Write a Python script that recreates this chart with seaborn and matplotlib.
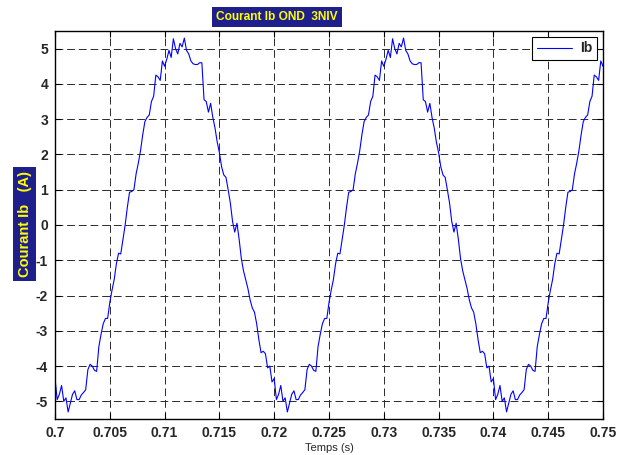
import matplotlib
matplotlib.use("Agg")
import matplotlib.pyplot as plt
import numpy as np
import seaborn as sns

t_start = 0.7
t_step = 0.0002

ib_period1 = [
    -4.35, -4.95, -4.8, -4.55, -5.0, -4.9, -5.3, -5.05, -4.8, -4.7,
    -4.95, -4.95, -4.82, -4.75, -4.67, -4.1, -3.95, -4.0, -4.12, -4.15,
    -3.45, -3.1, -2.8, -2.65, -2.65, -2.2, -1.85, -1.55, -1.1, -0.8,
    -0.82, -0.4, 0.0, 0.5, 0.93, 0.95, 1.0, 1.45, 1.75, 2.1,
    2.55, 2.93, 3.05, 3.12, 3.5, 3.65, 4.25, 4.2, 4.1, 4.65,
    4.5, 4.7, 4.95, 4.75, 5.28, 5.0, 4.85, 5.15, 5.05, 5.3,
    4.95, 4.85, 4.65, 4.57, 4.55, 4.55, 4.6, 4.6, 3.55, 3.5,
    3.2, 3.45, 3.05, 2.75, 2.35, 2.05, 1.65, 1.42, 1.35, 1.0,
    0.62, 0.1, -0.2, 0.05, -0.4, -0.95, -1.3, -1.55, -1.8, -2.12,
    -2.35, -2.47, -2.8, -3.25, -3.62, -3.58, -3.65, -4.05, -4.0, -4.45,
]
ib_period2 = [
    -4.35, -4.95, -4.8, -4.55, -5.0, -4.9, -5.3, -5.05, -4.8, -4.7,
    -4.95, -4.95, -4.82, -4.75, -4.67, -4.1, -3.95, -4.0, -4.12, -4.15,
    -3.45, -3.1, -2.8, -2.65, -2.65, -2.2, -1.85, -1.55, -1.1, -0.8,
    -0.82, -0.4, 0.0, 0.5, 0.93, 0.95, 1.0, 1.45, 1.75, 2.1,
    2.55, 2.93, 3.05, 3.12, 3.5, 3.65, 4.25, 4.2, 4.1, 4.65,
    4.5, 4.7, 4.95, 4.75, 5.28, 5.0, 4.85, 5.15, 5.05, 5.3,
    4.95, 4.85, 4.65, 4.57, 4.55, 4.55, 4.6, 4.6, 3.55, 3.5,
    3.2, 3.45, 3.05, 2.75, 2.35, 2.05, 1.65, 1.42, 1.35, 1.0,
    0.62, 0.1, -0.2, 0.05, -0.4, -0.95, -1.3, -1.55, -1.8, -2.12,
    -2.35, -2.47, -2.8, -3.25, -3.62, -3.58, -3.65, -4.05, -4.0, -4.45,
]
ib_period3 = [
    -4.35, -4.95, -4.8, -4.55, -5.0, -4.9, -5.3, -5.05, -4.8, -4.7,
    -4.95, -4.95, -4.82, -4.75, -4.67, -4.1, -3.95, -4.0, -4.12, -4.15,
    -3.45, -3.1, -2.8, -2.65, -2.65, -2.2, -1.85, -1.55, -1.1, -0.8,
    -0.82, -0.4, 0.0, 0.5, 0.93, 0.95, 1.0, 1.45, 1.75, 2.1,
    2.55, 2.93, 3.05, 3.12, 3.5, 3.65, 4.25, 4.2, 4.1, 4.65,
    4.5,
]

x_ticks = [0.7, 0.705, 0.71, 0.715, 0.72, 0.725, 0.73, 0.735, 0.74, 0.745, 0.75]
x_tick_labels = ['0.7', '0.705', '0.71', '0.715', '0.72', '0.725',
                 '0.73', '0.735', '0.74', '0.745', '0.75']
y_ticks = [-5, -4, -3, -2, -1, 0, 1, 2, 3, 4, 5]


def main():
    ib = ib_period1 + ib_period2 + ib_period3
    temps = t_start + t_step * np.arange(len(ib))

    sns.set_theme(style='white')
    plt.rcParams['font.family'] = ['Liberation Sans', 'DejaVu Sans']

    fig = plt.figure(figsize=(6.19, 4.55), dpi=100)
    ax = fig.add_axes([55 / 619, 36 / 455, 548 / 619, 388 / 455])

    sns.lineplot(x=temps, y=ib, color='#0000ff', linewidth=0.8,
                 label='Ib', ax=ax)

    ax.set_xlim(0.7, 0.75)
    ax.set_ylim(-5.5, 5.5)
    ax.set_xticks(x_ticks)
    ax.set_xticklabels(x_tick_labels, fontweight='bold', fontsize=10)
    ax.set_yticks(y_ticks)
    ax.set_yticklabels([str(v) for v in y_ticks], fontweight='bold', fontsize=10)
    ax.tick_params(direction='in', length=4, width=0.8, color='black',
                   top=True, right=True, bottom=True, left=True, pad=5)

    ax.grid(True, color='#2a2a2a', linewidth=0.7, linestyle=(0, (8, 4)))
    for sp in ax.spines.values():
        sp.set_color('black')
        sp.set_linewidth(1.0)

    ax.set_xlabel('Temps (s)', fontsize=8, labelpad=2)
    ax.set_ylabel('')

    leg = ax.legend(loc='upper right', fancybox=False, edgecolor='black',
                    framealpha=1, handlelength=2.5, handletextpad=0.6,
                    borderaxespad=0.4, borderpad=0.35,
                    prop={'weight': 'bold', 'size': 10})
    leg.get_frame().set_linewidth(0.8)

    fig.text(277 / 619, 1 - 17 / 455, 'Courant Ib OND  3NIV',
             ha='center', va='center', color='#ffff00', fontweight='bold',
             fontsize=8.6,
             bbox=dict(facecolor='#1f1f8c', edgecolor='none', pad=3.2))
    fig.text(24.5 / 619, 1 - 224 / 455, 'Courant Ib   (A)', rotation=90,
             ha='center', va='center', color='#ffff00', fontweight='bold',
             fontsize=10.5,
             bbox=dict(facecolor='#1f1f8c', edgecolor='none', pad=3))

    fig.savefig('out.png', dpi=100)


if __name__ == '__main__':
    main()
